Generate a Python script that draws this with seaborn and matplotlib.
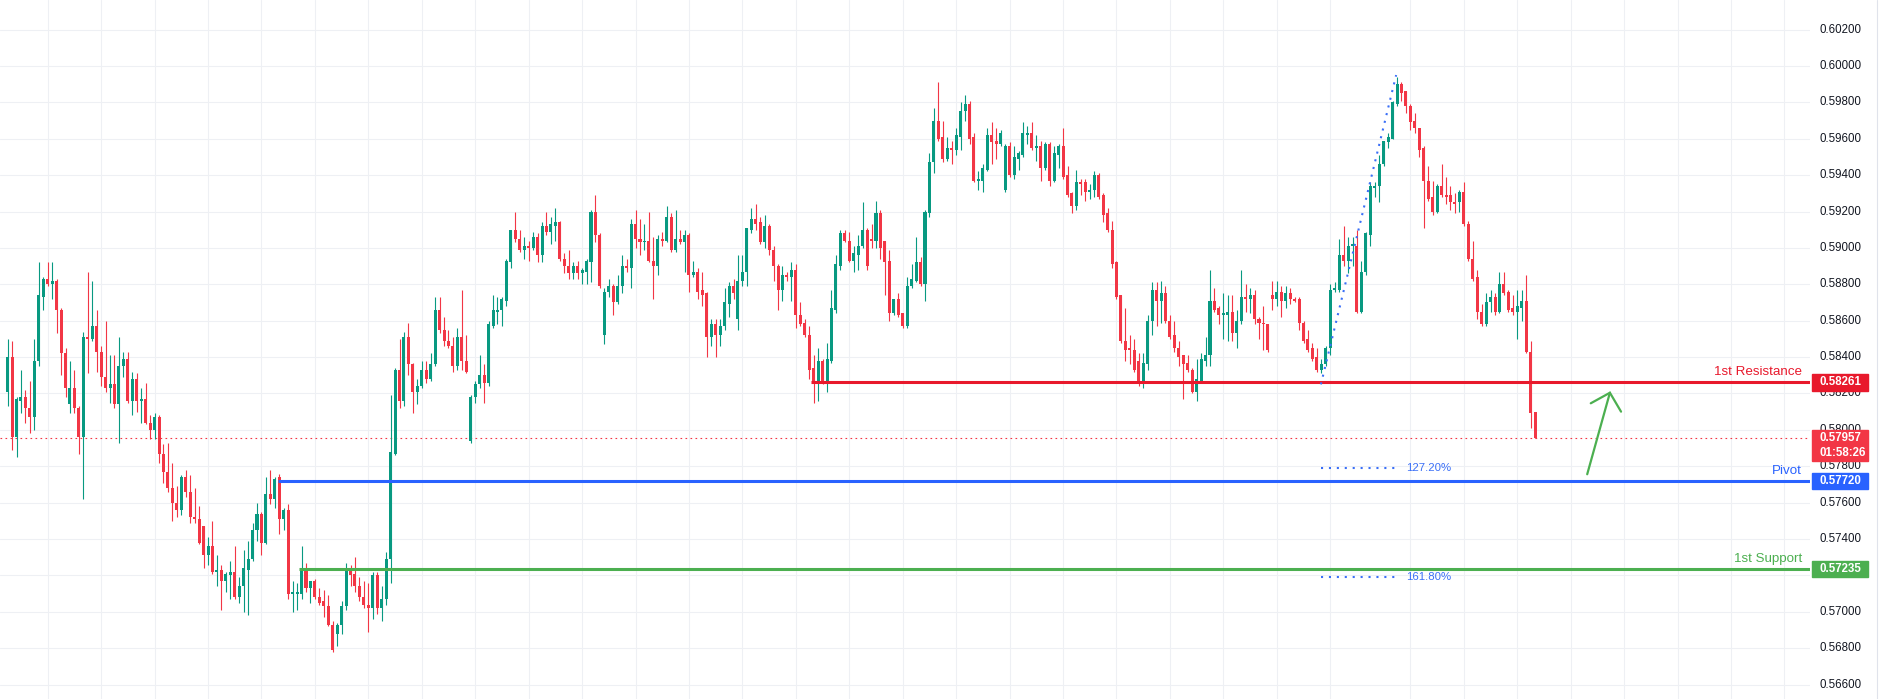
import numpy as np
import pandas as pd
import matplotlib
matplotlib.use("Agg")
import matplotlib.pyplot as plt
from matplotlib.patches import Rectangle
import seaborn as sns

# --- Kerzendaten (Reihenfolge von links nach rechts) ---
open_px = [
    0.5821, 0.5840, 0.5796, 0.5816, 0.5818, 0.5812, 0.5807, 0.5838, 0.5873, 0.5883,
    0.5880, 0.5882, 0.5866, 0.5842, 0.5814, 0.5823, 0.5812, 0.5796, 0.5851, 0.5850,
    0.5857, 0.5843, 0.5829, 0.5823, 0.5825, 0.5814, 0.5835, 0.5839, 0.5816, 0.5828,
    0.5816, 0.5817, 0.5804, 0.5800, 0.5807, 0.5787, 0.5777, 0.5768, 0.5760, 0.5756,
    0.5774, 0.5766, 0.5752, 0.5751, 0.5747, 0.5731, 0.5736, 0.5722, 0.5723, 0.5717,
    0.5720, 0.5722, 0.5708, 0.5714, 0.5723, 0.5729, 0.5745, 0.5754, 0.5738, 0.5765,
    0.5762, 0.5774, 0.5751, 0.5756, 0.5710, 0.5710, 0.5710, 0.5723, 0.5713, 0.5717,
    0.5708, 0.5706, 0.5703, 0.5693, 0.5688, 0.5693, 0.5703, 0.5724, 0.5721, 0.5714,
    0.5708, 0.5704, 0.5702, 0.5720, 0.5702, 0.5707, 0.5729, 0.5787, 0.5833, 0.5816,
    0.5851, 0.5836, 0.5821, 0.5824, 0.5833, 0.5828, 0.5836, 0.5866, 0.5855, 0.5849,
    0.5846, 0.5835, 0.5851, 0.5838, 0.5794, 0.5818, 0.5825, 0.5830, 0.5826, 0.5857,
    0.5865, 0.5866, 0.5871, 0.5892, 0.5910, 0.5905, 0.5899, 0.5901, 0.5900, 0.5906,
    0.5896, 0.5912, 0.5909, 0.5912, 0.5914, 0.5894, 0.5890, 0.5886, 0.5890, 0.5886,
    0.5887, 0.5892, 0.5920, 0.5907, 0.5852, 0.5876, 0.5879, 0.5870, 0.5879, 0.5890,
    0.5889, 0.5913, 0.5905, 0.5903, 0.5904, 0.5893, 0.5890, 0.5905, 0.5904, 0.5917,
    0.5899, 0.5905, 0.5903, 0.5907, 0.5885, 0.5887, 0.5877, 0.5875, 0.5851, 0.5858,
    0.5852, 0.5857, 0.5869, 0.5879, 0.5861, 0.5882, 0.5887, 0.5910, 0.5916, 0.5914,
    0.5903, 0.5912, 0.5899, 0.5890, 0.5877, 0.5885, 0.5884, 0.5888, 0.5863, 0.5859,
    0.5852, 0.5834, 0.5826, 0.5838, 0.5826, 0.5838, 0.5866, 0.5890, 0.5908, 0.5904,
    0.5893, 0.5896, 0.5901, 0.5910, 0.5905, 0.5904, 0.5919, 0.5904, 0.5893, 0.5864,
    0.5872, 0.5864, 0.5857, 0.5879, 0.5882, 0.5892, 0.5880, 0.5919, 0.5947, 0.5970,
    0.5961, 0.5949, 0.5955, 0.5954, 0.5961, 0.5975, 0.5979, 0.5961, 0.5937, 0.5937,
    0.5943, 0.5962, 0.5959, 0.5957, 0.5932, 0.5956, 0.5940, 0.5949, 0.5951, 0.5962,
    0.5963, 0.5955, 0.5956, 0.5944, 0.5957, 0.5937, 0.5951, 0.5956, 0.5940, 0.5930,
    0.5923, 0.5936, 0.5936, 0.5931, 0.5932, 0.5940, 0.5929, 0.5919, 0.5910, 0.5892,
    0.5874, 0.5849, 0.5845, 0.5844, 0.5838, 0.5825, 0.5836, 0.5860, 0.5877, 0.5871,
    0.5875, 0.5860, 0.5852, 0.5845, 0.5841, 0.5837, 0.5833, 0.5821, 0.5827, 0.5838,
    0.5841, 0.5871, 0.5867, 0.5863, 0.5863, 0.5865, 0.5853, 0.5860, 0.5873, 0.5872,
    0.5874, 0.5861, 0.5859, 0.5858, 0.5874, 0.5872, 0.5876, 0.5871, 0.5875, 0.5872,
    0.5872, 0.5859, 0.5850, 0.5845, 0.5840, 0.5833, 0.5836, 0.5845, 0.5877, 0.5877,
    0.5896, 0.5893, 0.5901, 0.5901, 0.5865, 0.5887, 0.5907, 0.5933, 0.5934, 0.5946,
    0.5958, 0.5960, 0.5979, 0.5990, 0.5986, 0.5978, 0.5970, 0.5966, 0.5955, 0.5937,
    0.5928, 0.5920, 0.5934, 0.5929, 0.5929, 0.5925, 0.5925, 0.5931, 0.5913, 0.5894,
    0.5884, 0.5865, 0.5858, 0.5870, 0.5873, 0.5865, 0.5880, 0.5876, 0.5867, 0.5865,
    0.5867, 0.5871, 0.5843, 0.5810,
]
high_px = [
    0.5850, 0.5849, 0.5818, 0.5833, 0.5822, 0.5827, 0.5850, 0.5892, 0.5884, 0.5892,
    0.5892, 0.5883, 0.5867, 0.5845, 0.5838, 0.5833, 0.5813, 0.5854, 0.5887, 0.5882,
    0.5866, 0.5846, 0.5860, 0.5841, 0.5841, 0.5851, 0.5843, 0.5843, 0.5832, 0.5831,
    0.5823, 0.5826, 0.5808, 0.5809, 0.5808, 0.5792, 0.5793, 0.5782, 0.5769, 0.5775,
    0.5778, 0.5775, 0.5768, 0.5758, 0.5747, 0.5741, 0.5750, 0.5731, 0.5726, 0.5722,
    0.5728, 0.5736, 0.5719, 0.5734, 0.5739, 0.5749, 0.5760, 0.5755, 0.5774, 0.5778,
    0.5774, 0.5776, 0.5757, 0.5759, 0.5717, 0.5716, 0.5736, 0.5727, 0.5717, 0.5718,
    0.5713, 0.5712, 0.5709, 0.5695, 0.5694, 0.5706, 0.5727, 0.5726, 0.5730, 0.5719,
    0.5717, 0.5716, 0.5722, 0.5722, 0.5714, 0.5733, 0.5819, 0.5834, 0.5850, 0.5854,
    0.5859, 0.5837, 0.5828, 0.5838, 0.5838, 0.5842, 0.5873, 0.5873, 0.5862, 0.5855,
    0.5851, 0.5856, 0.5877, 0.5852, 0.5819, 0.5827, 0.5841, 0.5836, 0.5860, 0.5874,
    0.5873, 0.5873, 0.5894, 0.5910, 0.5920, 0.5910, 0.5906, 0.5904, 0.5909, 0.5908,
    0.5914, 0.5920, 0.5917, 0.5922, 0.5915, 0.5897, 0.5899, 0.5892, 0.5893, 0.5889,
    0.5894, 0.5921, 0.5929, 0.5908, 0.5878, 0.5883, 0.5880, 0.5885, 0.5896, 0.5894,
    0.5916, 0.5921, 0.5916, 0.5913, 0.5920, 0.5906, 0.5907, 0.5909, 0.5923, 0.5919,
    0.5921, 0.5910, 0.5910, 0.5908, 0.5893, 0.5889, 0.5887, 0.5876, 0.5861, 0.5861,
    0.5861, 0.5878, 0.5881, 0.5883, 0.5896, 0.5896, 0.5911, 0.5922, 0.5924, 0.5917,
    0.5918, 0.5913, 0.5901, 0.5891, 0.5890, 0.5887, 0.5892, 0.5891, 0.5870, 0.5861,
    0.5857, 0.5841, 0.5845, 0.5839, 0.5848, 0.5877, 0.5896, 0.5910, 0.5910, 0.5909,
    0.5901, 0.5907, 0.5925, 0.5911, 0.5913, 0.5926, 0.5921, 0.5904, 0.5899, 0.5872,
    0.5875, 0.5864, 0.5884, 0.5891, 0.5906, 0.5895, 0.5921, 0.5952, 0.5977, 0.5991,
    0.5970, 0.5961, 0.5959, 0.5966, 0.5980, 0.5984, 0.5981, 0.5963, 0.5942, 0.5946,
    0.5966, 0.5969, 0.5966, 0.5965, 0.5957, 0.5958, 0.5956, 0.5953, 0.5969, 0.5967,
    0.5969, 0.5962, 0.5959, 0.5958, 0.5958, 0.5956, 0.5957, 0.5966, 0.5945, 0.5931,
    0.5943, 0.5938, 0.5938, 0.5935, 0.5942, 0.5941, 0.5930, 0.5922, 0.5915, 0.5893,
    0.5874, 0.5867, 0.5852, 0.5850, 0.5842, 0.5842, 0.5863, 0.5881, 0.5881, 0.5882,
    0.5879, 0.5863, 0.5860, 0.5849, 0.5841, 0.5841, 0.5834, 0.5839, 0.5842, 0.5851,
    0.5888, 0.5878, 0.5868, 0.5875, 0.5874, 0.5874, 0.5866, 0.5888, 0.5880, 0.5878,
    0.5877, 0.5862, 0.5868, 0.5858, 0.5882, 0.5882, 0.5879, 0.5879, 0.5878, 0.5873,
    0.5873, 0.5860, 0.5855, 0.5848, 0.5845, 0.5839, 0.5846, 0.5880, 0.5881, 0.5905,
    0.5912, 0.5906, 0.5906, 0.5910, 0.5893, 0.5909, 0.5936, 0.5936, 0.5951, 0.5959,
    0.5963, 0.5981, 0.5994, 0.5991, 0.5986, 0.5979, 0.5974, 0.5966, 0.5956, 0.5945,
    0.5937, 0.5935, 0.5946, 0.5939, 0.5934, 0.5930, 0.5932, 0.5936, 0.5915, 0.5904,
    0.5888, 0.5869, 0.5875, 0.5877, 0.5875, 0.5887, 0.5887, 0.5877, 0.5874, 0.5877,
    0.5877, 0.5885, 0.5849, 0.5810,
]
low_px = [
    0.5813, 0.5789, 0.5785, 0.5809, 0.5804, 0.5798, 0.5800, 0.5835, 0.5866, 0.5879,
    0.5872, 0.5853, 0.5830, 0.5818, 0.5809, 0.5809, 0.5787, 0.5762, 0.5831, 0.5849,
    0.5832, 0.5824, 0.5821, 0.5815, 0.5812, 0.5793, 0.5829, 0.5815, 0.5808, 0.5810,
    0.5804, 0.5803, 0.5795, 0.5795, 0.5782, 0.5771, 0.5766, 0.5750, 0.5752, 0.5753,
    0.5763, 0.5749, 0.5749, 0.5737, 0.5724, 0.5726, 0.5721, 0.5714, 0.5701, 0.5711,
    0.5707, 0.5707, 0.5705, 0.5700, 0.5698, 0.5728, 0.5739, 0.5731, 0.5737, 0.5759,
    0.5757, 0.5743, 0.5745, 0.5707, 0.5700, 0.5701, 0.5707, 0.5711, 0.5705, 0.5707,
    0.5704, 0.5697, 0.5692, 0.5678, 0.5681, 0.5688, 0.5701, 0.5714, 0.5711, 0.5706,
    0.5702, 0.5689, 0.5696, 0.5699, 0.5695, 0.5704, 0.5716, 0.5786, 0.5812, 0.5813,
    0.5830, 0.5809, 0.5814, 0.5823, 0.5826, 0.5827, 0.5835, 0.5853, 0.5846, 0.5845,
    0.5832, 0.5833, 0.5833, 0.5831, 0.5793, 0.5815, 0.5823, 0.5815, 0.5824, 0.5856,
    0.5858, 0.5857, 0.5868, 0.5889, 0.5903, 0.5898, 0.5894, 0.5893, 0.5899, 0.5892,
    0.5892, 0.5907, 0.5902, 0.5904, 0.5893, 0.5886, 0.5883, 0.5883, 0.5883, 0.5880,
    0.5880, 0.5881, 0.5903, 0.5878, 0.5847, 0.5873, 0.5863, 0.5869, 0.5875, 0.5887,
    0.5878, 0.5900, 0.5896, 0.5899, 0.5892, 0.5872, 0.5885, 0.5901, 0.5903, 0.5898,
    0.5898, 0.5902, 0.5887, 0.5876, 0.5884, 0.5872, 0.5868, 0.5840, 0.5846, 0.5840,
    0.5846, 0.5855, 0.5862, 0.5872, 0.5855, 0.5879, 0.5879, 0.5908, 0.5910, 0.5902,
    0.5900, 0.5896, 0.5882, 0.5866, 0.5871, 0.5882, 0.5871, 0.5856, 0.5857, 0.5851,
    0.5828, 0.5815, 0.5816, 0.5825, 0.5821, 0.5837, 0.5864, 0.5888, 0.5903, 0.5892,
    0.5887, 0.5888, 0.5900, 0.5888, 0.5900, 0.5900, 0.5894, 0.5874, 0.5860, 0.5863,
    0.5862, 0.5856, 0.5856, 0.5878, 0.5881, 0.5879, 0.5871, 0.5917, 0.5941, 0.5959,
    0.5947, 0.5948, 0.5946, 0.5951, 0.5954, 0.5970, 0.5957, 0.5936, 0.5932, 0.5931,
    0.5942, 0.5946, 0.5949, 0.5956, 0.5931, 0.5939, 0.5938, 0.5943, 0.5950, 0.5957,
    0.5954, 0.5948, 0.5937, 0.5943, 0.5934, 0.5936, 0.5944, 0.5938, 0.5928, 0.5919,
    0.5921, 0.5929, 0.5926, 0.5927, 0.5928, 0.5927, 0.5914, 0.5909, 0.5889, 0.5872,
    0.5848, 0.5838, 0.5836, 0.5832, 0.5824, 0.5823, 0.5833, 0.5852, 0.5857, 0.5859,
    0.5859, 0.5850, 0.5843, 0.5835, 0.5817, 0.5832, 0.5820, 0.5816, 0.5826, 0.5835,
    0.5835, 0.5865, 0.5858, 0.5850, 0.5849, 0.5849, 0.5845, 0.5858, 0.5865, 0.5864,
    0.5858, 0.5850, 0.5844, 0.5843, 0.5866, 0.5868, 0.5862, 0.5867, 0.5869, 0.5870,
    0.5855, 0.5848, 0.5843, 0.5838, 0.5832, 0.5831, 0.5835, 0.5841, 0.5876, 0.5876,
    0.5890, 0.5886, 0.5890, 0.5864, 0.5864, 0.5885, 0.5901, 0.5928, 0.5925, 0.5945,
    0.5955, 0.5960, 0.5978, 0.5981, 0.5974, 0.5965, 0.5963, 0.5950, 0.5911, 0.5926,
    0.5918, 0.5919, 0.5928, 0.5924, 0.5921, 0.5919, 0.5920, 0.5912, 0.5893, 0.5882,
    0.5861, 0.5857, 0.5857, 0.5865, 0.5863, 0.5864, 0.5874, 0.5865, 0.5863, 0.5850,
    0.5860, 0.5842, 0.5801, 0.57957,
]
close_px = [
    0.5840, 0.5796, 0.5817, 0.5818, 0.5812, 0.5807, 0.5838, 0.5874, 0.5883, 0.5880,
    0.5882, 0.5866, 0.5842, 0.5823, 0.5823, 0.5812, 0.5796, 0.5851, 0.5850, 0.5857,
    0.5843, 0.5829, 0.5823, 0.5825, 0.5814, 0.5835, 0.5839, 0.5816, 0.5828, 0.5816,
    0.5817, 0.5804, 0.5800, 0.5807, 0.5787, 0.5777, 0.5768, 0.5760, 0.5756, 0.5774,
    0.5766, 0.5752, 0.5751, 0.5738, 0.5731, 0.5736, 0.5722, 0.5723, 0.5717, 0.5721,
    0.5722, 0.5708, 0.5714, 0.5724, 0.5729, 0.5745, 0.5754, 0.5738, 0.5765, 0.5762,
    0.5773, 0.5751, 0.5756, 0.5710, 0.5711, 0.5711, 0.5723, 0.5713, 0.5717, 0.5708,
    0.5705, 0.5703, 0.5693, 0.5679, 0.5693, 0.5703, 0.5724, 0.5720, 0.5714, 0.5708,
    0.5704, 0.5702, 0.5720, 0.5702, 0.5707, 0.5729, 0.5788, 0.5833, 0.5816, 0.5851,
    0.5836, 0.5821, 0.5824, 0.5833, 0.5828, 0.5836, 0.5866, 0.5855, 0.5849, 0.5846,
    0.5835, 0.5851, 0.5838, 0.5832, 0.5818, 0.5825, 0.5830, 0.5826, 0.5858, 0.5866,
    0.5866, 0.5872, 0.5893, 0.5910, 0.5905, 0.5899, 0.5901, 0.5900, 0.5906, 0.5896,
    0.5912, 0.5909, 0.5913, 0.5914, 0.5894, 0.5890, 0.5886, 0.5890, 0.5886, 0.5888,
    0.5893, 0.5920, 0.5907, 0.5879, 0.5876, 0.5879, 0.5870, 0.5879, 0.5890, 0.5889,
    0.5913, 0.5905, 0.5903, 0.5904, 0.5893, 0.5890, 0.5905, 0.5904, 0.5917, 0.5899,
    0.5905, 0.5903, 0.5907, 0.5885, 0.5887, 0.5876, 0.5874, 0.5851, 0.5858, 0.5852,
    0.5857, 0.5870, 0.5879, 0.5875, 0.5882, 0.5887, 0.5911, 0.5916, 0.5913, 0.5903,
    0.5912, 0.5899, 0.5890, 0.5877, 0.5885, 0.5884, 0.5888, 0.5863, 0.5858, 0.5852,
    0.5833, 0.5826, 0.5838, 0.5826, 0.5839, 0.5867, 0.5891, 0.5908, 0.5904, 0.5893,
    0.5897, 0.5901, 0.5910, 0.5890, 0.5904, 0.5919, 0.5900, 0.5892, 0.5864, 0.5872,
    0.5863, 0.5857, 0.5879, 0.5883, 0.5892, 0.5880, 0.5920, 0.5947, 0.5970, 0.5960,
    0.5949, 0.5955, 0.5954, 0.5962, 0.5975, 0.5979, 0.5960, 0.5937, 0.5938, 0.5944,
    0.5962, 0.5958, 0.5957, 0.5963, 0.5956, 0.5940, 0.5950, 0.5952, 0.5963, 0.5963,
    0.5955, 0.5956, 0.5944, 0.5957, 0.5937, 0.5952, 0.5956, 0.5939, 0.5929, 0.5923,
    0.5936, 0.5935, 0.5931, 0.5932, 0.5940, 0.5928, 0.5918, 0.5910, 0.5891, 0.5873,
    0.5849, 0.5844, 0.5844, 0.5833, 0.5825, 0.5837, 0.5860, 0.5877, 0.5871, 0.5875,
    0.5860, 0.5851, 0.5845, 0.5840, 0.5836, 0.5833, 0.5821, 0.5828, 0.5839, 0.5841,
    0.5871, 0.5866, 0.5863, 0.5864, 0.5865, 0.5853, 0.5860, 0.5873, 0.5872, 0.5874,
    0.5861, 0.5859, 0.5858, 0.5844, 0.5872, 0.5876, 0.5871, 0.5875, 0.5872, 0.5871,
    0.5859, 0.5849, 0.5844, 0.5839, 0.5833, 0.5836, 0.5845, 0.5877, 0.5878, 0.5896,
    0.5893, 0.5901, 0.5902, 0.5865, 0.5887, 0.5908, 0.5934, 0.5934, 0.5946, 0.5959,
    0.5961, 0.5980, 0.5990, 0.5985, 0.5978, 0.5969, 0.5966, 0.5954, 0.5937, 0.5927,
    0.5920, 0.5934, 0.5929, 0.5928, 0.5925, 0.5924, 0.5931, 0.5913, 0.5894, 0.5883,
    0.5865, 0.5858, 0.5870, 0.5873, 0.5865, 0.5880, 0.5875, 0.5866, 0.5865, 0.5868,
    0.5871, 0.5843, 0.5809, 0.57957,
]

# Preisskala
price_ticks = [0.566, 0.568, 0.570, 0.572, 0.574, 0.576, 0.578, 0.580, 0.582,
               0.584, 0.586, 0.588, 0.590, 0.592, 0.594, 0.596, 0.598, 0.600, 0.602]
# vertikale Zeit-Gitterlinien (Kerzen-Index)
time_grid = list(range(9, 298, 12)) + list(range(315, 400, 12))

# Niveaus: (Text, Preis, Start-Kerze, Farbe)
levels = [
    ("1st Resistance", 0.58261, 180.3, "#E8192C"),
    ("Pivot", 0.57720, 60.8, "#2962FF"),
    ("1st Support", 0.57235, 65.4, "#4CAF50"),
]
last_price = 0.57957
countdown = "01:58:26"

# Fibonacci-Erweiterung
fib_anchor_x = [294.9, 311.8]
fib_anchor_y = [0.5825, 0.5995]
fib_names = ["127.20%", "161.80%"]
fib_values = [0.5779, 0.5719]
fib_span = [294.9, 311.5]

# Pfeil (Schaft + Spitze)
arrow_x = [354.7, 359.8]
arrow_y = [0.57756, 0.58204]
head_x = [355.5, 359.8, 362.3]
head_y = [0.58146, 0.58204, 0.58100]

UP = "#089981"
DOWN = "#F23645"
GRID = "#eef0f4"

df = pd.DataFrame({"o": open_px, "h": high_px, "l": low_px, "c": close_px})
df["i"] = np.arange(len(df))
df["col"] = np.where(df["c"] >= df["o"], UP, DOWN)

sns.set_theme(style="white")
plt.rcParams["font.family"] = ["Liberation Sans", "DejaVu Sans"]

W, H = 1879, 699
PLOT_W = 1810
fig = plt.figure(figsize=(W / 100, H / 100), dpi=100)
fig.patch.set_facecolor("white")
ax = fig.add_axes([0, 0, PLOT_W / W, 1])
sax = fig.add_axes([PLOT_W / W, 0, (W - PLOT_W) / W, 1])

YLIM = (0.565208, 0.603625)
ax.set_xlim(-1.711, 404.73)
ax.set_ylim(*YLIM)

# Gitter
ax.set_xticks(time_grid)
ax.set_yticks(price_ticks)
ax.tick_params(length=0, labelbottom=False, labelleft=False)
ax.grid(True, color=GRID, linewidth=0.8)
ax.set_axisbelow(True)
for s in ax.spines.values():
    s.set_visible(False)

# Kerzen
ax.vlines(df["i"], df["l"], df["h"], colors=df["col"], linewidth=0.8, zorder=2)
body_lo = np.minimum(df["o"], df["c"])
body_h = np.maximum((df["c"] - df["o"]).abs(), 0.00005)
ax.bar(df["i"], body_h, bottom=body_lo, width=0.68, color=df["col"], linewidth=0, zorder=3)

# aktuelle Preislinie
ax.axhline(last_price, color=DOWN, linewidth=0.8, linestyle=(0, (1.5, 3)), zorder=1.5)

# Niveaus
for name, val, start, col in levels:
    ax.hlines(val, start, 404.73, color=col, linewidth=2.2, zorder=4)
    ax.annotate(name, xy=(402.9, val), xytext=(0, 5), textcoords="offset points",
                ha="right", va="baseline", fontsize=9.6, color=col, zorder=5)

# Fibonacci
fib_col = "#3a6ff7"
ax.plot(fib_anchor_x, fib_anchor_y, color=fib_col, linewidth=1.5,
        linestyle=(0, (1, 2.8)), zorder=4)
for name, val in zip(fib_names, fib_values):
    ax.plot(fib_span, [val, val], color=fib_col, linewidth=1.5,
            linestyle=(0, (1, 2.8)), zorder=4)
    ax.text(314.0, val, name, ha="left", va="center", fontsize=8.2, color=fib_col)

# Pfeil
ax.plot(arrow_x, arrow_y, color="#4CAF50", linewidth=1.6, solid_capstyle="round", zorder=5)
ax.plot(head_x, head_y, color="#4CAF50", linewidth=1.6, solid_capstyle="round",
        solid_joinstyle="miter", zorder=5)

# Preisskala rechts
sax.set_xlim(0, W - PLOT_W)
sax.set_ylim(*YLIM)
sax.axis("off")
for p in price_ticks:
    sax.text(10, p, f"{p:.5f}", ha="left", va="center", fontsize=8.3, color="#131722")
sax.axvline(66.5, color="#e0e3eb", linewidth=0.8)

half = 0.00045
for name, val, start, col in levels:
    sax.add_patch(Rectangle((2, val - half), 56, 2 * half, color=col, zorder=5))
    sax.text(10, val, f"{val:.5f}", ha="left", va="center", fontsize=8.3,
             color="white", fontweight="bold", zorder=6)

sax.add_patch(Rectangle((2, 0.57830), 56, 0.57999 - 0.57830, color=DOWN, zorder=5))
sax.text(10, last_price, f"{last_price:.5f}", ha="left", va="center", fontsize=8.3,
         color="white", fontweight="bold", zorder=6)
sax.text(10, 0.57874, countdown, ha="left", va="center", fontsize=8.3,
         color="white", fontweight="bold", zorder=6)

fig.savefig("out.png", dpi=100, facecolor="white")
